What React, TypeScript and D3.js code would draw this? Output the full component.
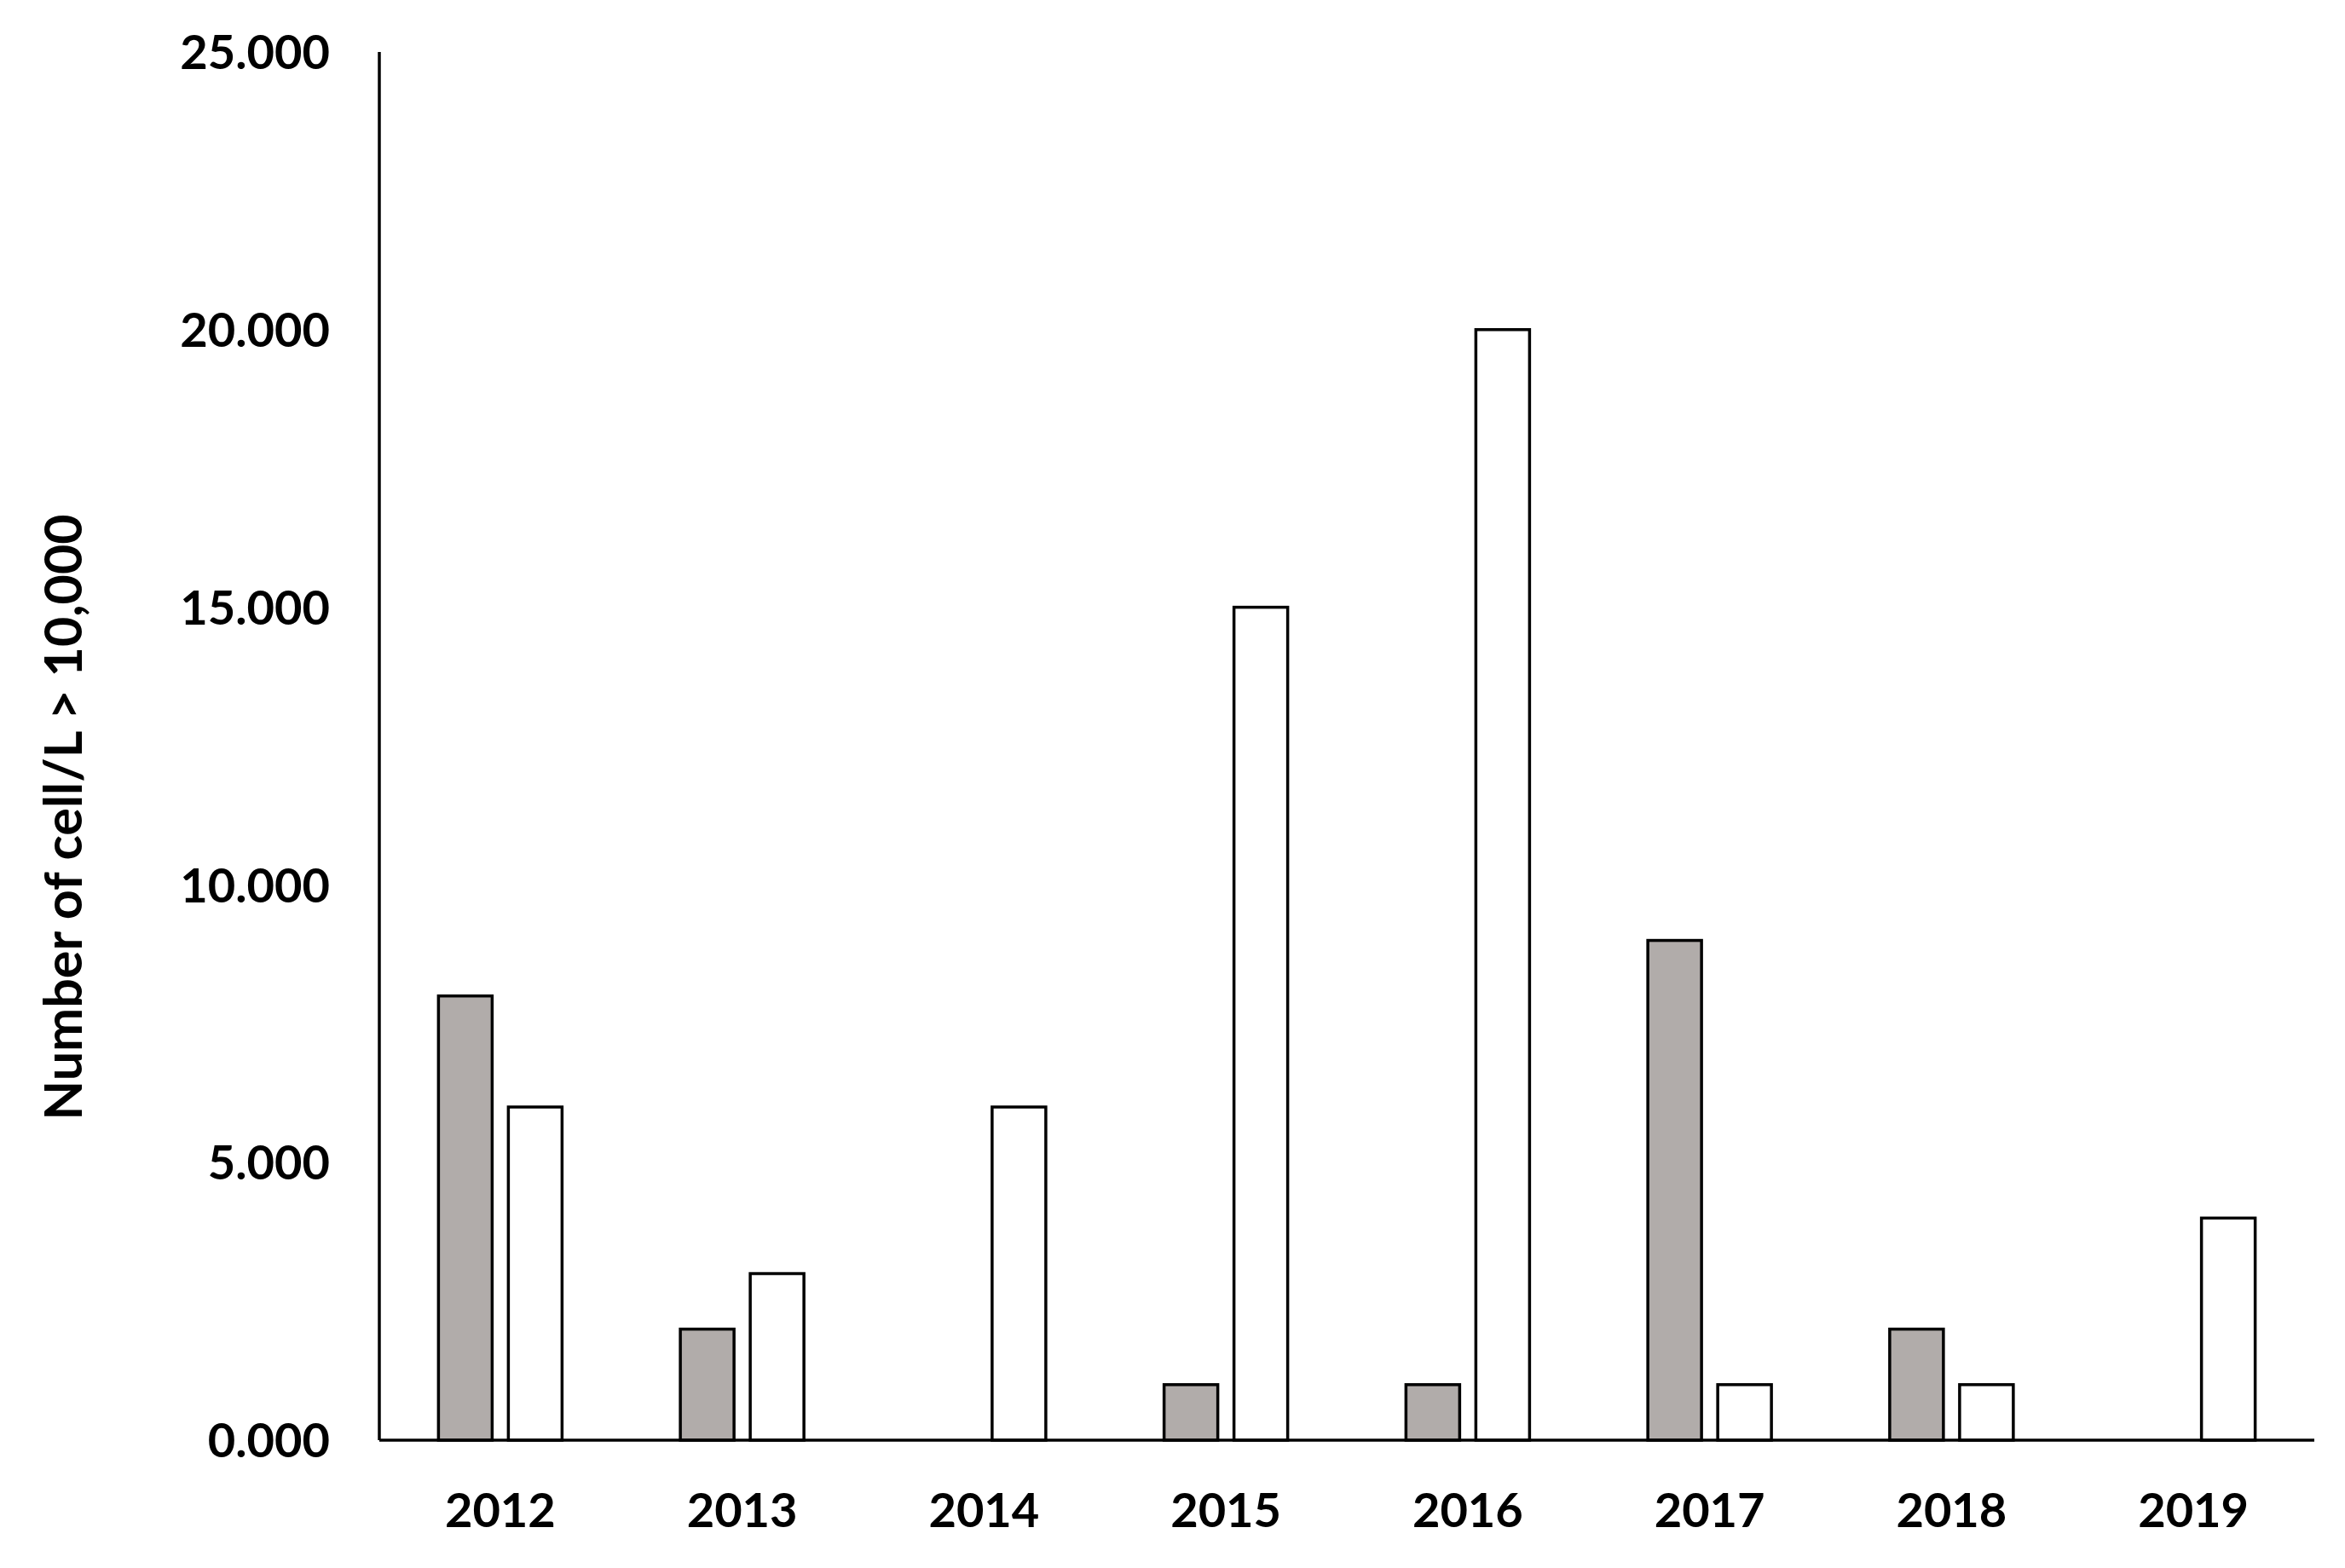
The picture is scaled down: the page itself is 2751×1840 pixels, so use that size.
import React from 'react';
import * as d3 from 'd3';

const years = ['2012', '2013', '2014', '2015', '2016', '2017', '2018', '2019'];
const grayValues = [8, 2, 0, 1, 1, 9, 2, 0];
const whiteValues = [6, 3, 6, 15, 20, 1, 1, 4];
const yTicks = [0, 5, 10, 15, 20, 25];
const yTitle = 'Number of cell/L > 10,000';

const W = 2751;
const H = 1840;
const left = 445;
const right = 2715;
const top = 61;
const bottom = 1690;
const font = 'Lato, "Open Sans", sans-serif';

function App() {
  const x = d3.scaleBand().domain(years).range([left, right]).padding(0);
  const y = d3.scaleLinear().domain([0, 25]).range([bottom, top]);
  const barW = 63;
  const offset = 41;
  const fmt = (v: number) => v.toFixed(3);

  return (
    <svg width={W} height={H} style={{ position: 'absolute', left: 0, top: 0, background: '#fff' }}>
      {years.map((yr, i) => {
        const c = (x(yr) ?? 0) + x.bandwidth() / 2;
        return (
          <g key={yr}>
            {grayValues[i] > 0 && (
              <rect
                x={c - offset - barW / 2}
                y={y(grayValues[i])}
                width={barW}
                height={bottom - y(grayValues[i])}
                fill="#b1acaa"
                stroke="#000"
                strokeWidth={3.5}
              />
            )}
            {whiteValues[i] > 0 && (
              <rect
                x={c + offset - barW / 2}
                y={y(whiteValues[i])}
                width={barW}
                height={bottom - y(whiteValues[i])}
                fill="#fff"
                stroke="#000"
                strokeWidth={3.5}
              />
            )}
            <text x={c} y={1772} dy="0.36em" textAnchor="middle" fontFamily={font} fontWeight="bold" fontSize={56}>
              {yr}
            </text>
          </g>
        );
      })}
      <line x1={left} x2={left} y1={top} y2={bottom} stroke="#000" strokeWidth={3.5} />
      <line x1={left} x2={right} y1={bottom} y2={bottom} stroke="#000" strokeWidth={3.5} />
      {yTicks.map((t) => (
        <text key={t} x={387} y={y(t)} dy="0.36em" textAnchor="end" fontFamily={font} fontWeight="bold" fontSize={56}>
          {fmt(t)}
        </text>
      ))}
      <text
        transform={`translate(74, 959) rotate(-90)`}
        dy="0.36em"
        textAnchor="middle"
        fontFamily={font}
        fontWeight="bold"
        fontSize={61}
      >
        {yTitle}
      </text>
    </svg>
  );
}

export default App;
